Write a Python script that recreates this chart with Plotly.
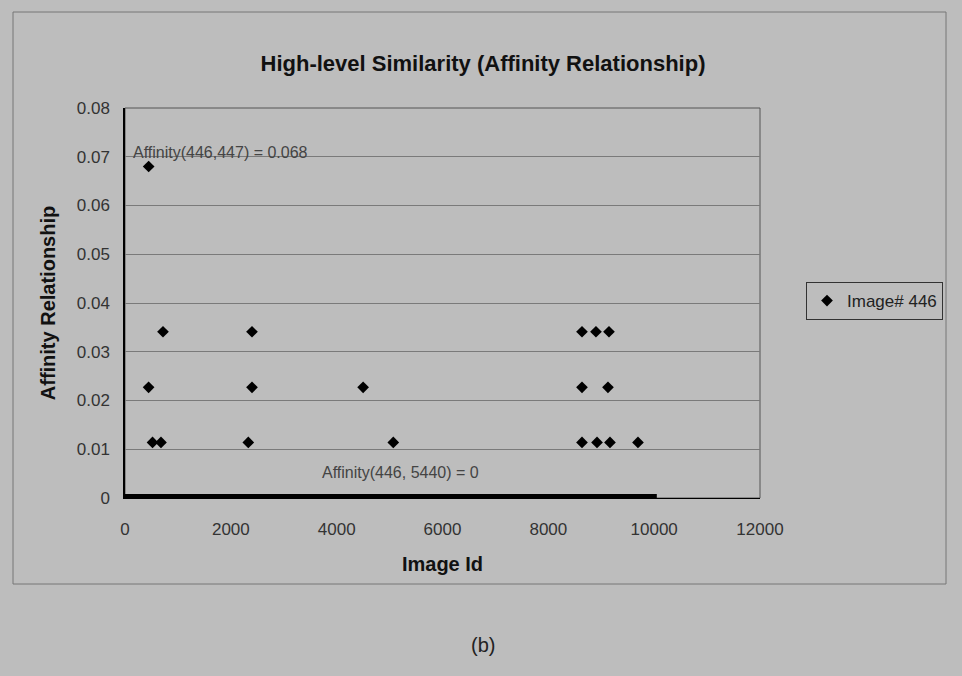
import plotly.graph_objects as go

# Image ids with non-zero affinity to image #446 and their affinity values
point_ids = [447, 446, 520, 680, 718, 2330, 2400, 2400, 4500, 5070,
             8636, 8636, 8636, 8900, 8920, 9127, 9146, 9165, 9694]
point_aff = [0.068, 0.0227, 0.0114, 0.0114, 0.0341, 0.0114, 0.0227, 0.0341, 0.0227, 0.0114,
             0.0341, 0.0227, 0.0114, 0.0341, 0.0114, 0.0227, 0.0341, 0.0114, 0.0114]
# Range of image ids whose affinity is 0 (drawn as a dense band of points)
zero_band_ids = [0, 10050]
zero_band_aff = [0, 0]

x_ticks = [0, 2000, 4000, 6000, 8000, 10000, 12000]
y_ticks = [0, 0.01, 0.02, 0.03, 0.04, 0.05, 0.06, 0.07, 0.08]

BG = "#bdbdbd"
FONT = "Liberation Sans, Arial, sans-serif"

fig = go.Figure()
fig.add_trace(go.Scatter(x=point_ids, y=point_aff, mode="markers", name="Image# 446",
                         marker=dict(symbol="diamond", size=9, color="black"),
                         cliponaxis=False))

W, H = 962, 676
L, R, T, B = 125, 760, 108, 498
pw, ph = R - L, B - T

def px(x):
    return (x - L) / pw

def py(y):
    return (B - y) / ph

fig.update_layout(
    width=W, height=H,
    margin=dict(l=L, r=W - R, t=T, b=H - B),
    paper_bgcolor=BG, plot_bgcolor=BG,
    font=dict(family=FONT, size=17, color="#222"),
    title=dict(text="<b>High-level Similarity (Affinity Relationship)</b>",
               x=px(483), xref="paper", xanchor="center",
               y=1 - 63 / H, yanchor="middle",
               font=dict(size=22, color="#111", family=FONT)),
    xaxis=dict(range=[0, 12000], tickvals=x_ticks, ticktext=[str(v) for v in x_ticks],
               showgrid=False, zeroline=False, showline=True, linecolor="black",
               linewidth=1, ticks="", ticklabelstandoff=16,
               tickfont=dict(size=17, color="#333"),
               title=dict(text="<b>Image Id</b>", font=dict(size=20, color="#111"),
                          standoff=18)),
    yaxis=dict(range=[0, 0.08], tickvals=y_ticks, ticktext=[f"{v:g}" for v in y_ticks],
               showgrid=True, gridcolor="#7a7a7a", gridwidth=1, zeroline=False,
               showline=True, linecolor="black", linewidth=1.5, ticks="",
               ticklabelstandoff=10,
               tickfont=dict(size=17, color="#333"),
               title=dict(text="<b>Affinity Relationship</b>", font=dict(size=20, color="#111"),
                          standoff=16)),
    legend=dict(x=px(806), y=py(282), xanchor="left", yanchor="top",
                bgcolor=BG, bordercolor="#333", borderwidth=1,
                font=dict(size=17, color="#222"), itemwidth=30,
                tracegroupgap=0),
    showlegend=True,
)

# dense band of zero-affinity points along the x axis
fig.add_shape(type="line", xref="x", yref="y",
              x0=zero_band_ids[0], x1=zero_band_ids[1],
              y0=zero_band_aff[0], y1=zero_band_aff[1],
              line=dict(color="black", width=8))
# plot-area frame (right/top edges)
fig.add_shape(type="rect", xref="paper", yref="paper", x0=0, y0=0, x1=1, y1=1,
              line=dict(color="#555", width=1), layer="below")
# outer chart border
fig.add_shape(type="rect", xref="paper", yref="paper",
              x0=px(13), x1=px(946), y0=py(584), y1=py(12),
              line=dict(color="#777", width=1))

fig.add_annotation(x=px(131), y=py(152), xref="paper", yref="paper",
                   text="Affinity(446,447) = 0.068", showarrow=False,
                   xanchor="left", yanchor="middle",
                   font=dict(size=16, color="#444"))
fig.add_annotation(x=px(320), y=py(472), xref="paper", yref="paper",
                   text="Affinity(446, 5440) = 0", showarrow=False,
                   xanchor="left", yanchor="middle",
                   font=dict(size=16, color="#444"))
fig.add_annotation(x=px(483), y=py(645), xref="paper", yref="paper",
                   text="(b)", showarrow=False, xanchor="center", yanchor="middle",
                   font=dict(size=20, color="#222"))

fig.write_html("out.html")
